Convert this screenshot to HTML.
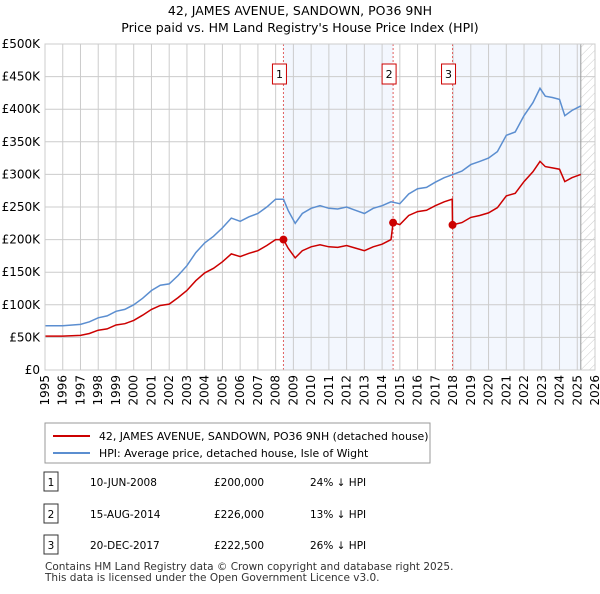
<!DOCTYPE html>
<html><head><meta charset="utf-8"><style>
body{margin:0;background:#fff;font-family:"DejaVu Sans",sans-serif;}
svg text{font-family:"DejaVu Sans",sans-serif;}
</style></head><body>
<svg width="600" height="590" viewBox="0 0 600 590">
<defs><pattern id="hatch" width="6" height="6" patternUnits="userSpaceOnUse" patternTransform="rotate(45)"><line x1="0" y1="0" x2="0" y2="6" stroke="#ccc" stroke-width="1"/></pattern></defs>
<text x="300" y="15" text-anchor="middle" font-size="12.5">42, JAMES AVENUE, SANDOWN, PO36 9NH</text>
<text x="300" y="32" text-anchor="middle" font-size="12.5">Price paid vs. HM Land Registry's House Price Index (HPI)</text>
<g id="plot"></g>
<g>
<rect x="45" y="423" width="385" height="40" fill="#fff" stroke="#999"/>
<line x1="53" y1="436" x2="90" y2="436" stroke="#cc0000" stroke-width="2"/>
<text x="99" y="440" font-size="10.9">42, JAMES AVENUE, SANDOWN, PO36 9NH (detached house)</text>
<line x1="53" y1="453" x2="90" y2="453" stroke="#5b8ed0" stroke-width="2"/>
<text x="99" y="457" font-size="10.9">HPI: Average price, detached house, Isle of Wight</text>
</g>
<g id="table" font-size="10.5"></g>
<text x="45" y="570" font-size="10.5" fill="#333">Contains HM Land Registry data © Crown copyright and database right 2025.</text>
<text x="45" y="581" font-size="10.5" fill="#333">This data is licensed under the Open Government Licence v3.0.</text>
</svg>
<script>
const hpiYears=[1995,1996,1997,1997.5,1998,1998.5,1999,1999.5,2000,2000.5,2001,2001.5,2002,2002.5,2003,2003.5,2004,2004.5,2005,2005.5,2006,2006.5,2007,2007.5,2008,2008.44,2008.7,2009.1,2009.5,2010,2010.5,2011,2011.5,2012,2012.5,2013,2013.5,2014,2014.5,2015,2015.5,2016,2016.5,2017,2017.5,2018,2018.5,2019,2019.5,2020,2020.5,2021,2021.5,2022,2022.5,2022.9,2023.2,2023.6,2024,2024.3,2024.7,2025.2];
const hpiValues=[68,68,70,74,80,83,90,93,100,110,122,130,132,145,160,180,195,205,218,233,228,235,240,250,262,262,245,225,240,248,252,248,247,250,245,240,248,252,258,255,270,278,280,288,295,300,305,315,320,325,335,360,365,390,410,432,420,418,415,390,398,405];
const priceYears=[1995,1996,1997,1997.5,1998,1998.5,1999,1999.5,2000,2000.5,2001,2001.5,2002,2002.5,2003,2003.5,2004,2004.5,2005,2005.5,2006,2006.5,2007,2007.5,2008,2008.44,2008.7,2009.1,2009.5,2010,2010.5,2011,2011.5,2012,2012.5,2013,2013.5,2014,2014.5,2014.62,2015,2015.5,2016,2016.5,2017,2017.5,2017.95,2017.97,2018.5,2019,2019.5,2020,2020.5,2021,2021.5,2022,2022.5,2022.9,2023.2,2023.6,2024,2024.3,2024.7,2025.2];
const priceValues=[52,52,53,56,61,63,69,71,76,84,93,99,101,111,122,137,149,156,166,178,174,179,183,191,200,200,187,172,183,189,192,189,188,191,187,183,189,193,200,226,223,237,243,245,252,258,262,222.5,226,234,237,241,249,267,271,289,304,320,312,310,308,289,295,300];
const saleYears=[2008.44,2014.62,2017.97];
const saleValues=[200,226,222.5];
const saleLabels=["1","2","3"];
const saleDates=["10-JUN-2008","15-AUG-2014","20-DEC-2017"];
const salePrices=["£200,000","£226,000","£222,500"];
const saleDiffs=["24% ↓ HPI","13% ↓ HPI","26% ↓ HPI"];
const yTicks=[0,50,100,150,200,250,300,350,400,450,500];
const yTickLabels=["£0","£50K","£100K","£150K","£200K","£250K","£300K","£350K","£400K","£450K","£500K"];
const xTicks=[1995,1996,1997,1998,1999,2000,2001,2002,2003,2004,2005,2006,2007,2008,2009,2010,2011,2012,2013,2014,2015,2016,2017,2018,2019,2020,2021,2022,2023,2024,2025,2026];
const dataEnd=2025.2;

const X0=45,X1=595,Y0=370,Y1=44;
const x=v=>X0+(v-1995)/(2026-1995)*(X1-X0);
const y=v=>Y0-v/500*(Y0-Y1);
const NS="http://www.w3.org/2000/svg";
const plot=document.getElementById('plot');
function mk(tag,attrs,parent){const e=document.createElementNS(NS,tag);for(const k in attrs)e.setAttribute(k,attrs[k]);(parent||plot).appendChild(e);return e;}
let s=mk('rect',{x:x(saleYears[0]),y:Y1,width:x(saleYears[1])-x(saleYears[0]),height:Y0-Y1,fill:'#eef3fd',opacity:0.7});


s=mk('rect',{x:x(saleYears[2]),y:Y1,width:x(dataEnd)-x(saleYears[2]),height:Y0-Y1,fill:'#eef3fd',opacity:0.7});


s=mk('rect',{x:x(dataEnd),y:Y1,width:X1-x(dataEnd),height:Y0-Y1,fill:'url(#hatch)'});


yTicks.forEach((t,i)=>{
 const l=mk('line',{x1:X0,x2:X1,y1:y(t),y2:y(t),stroke:'#ccc'});
 
 
 const tx=mk('text',{x:40,y:y(t)+4,'text-anchor':'end','font-size':12});
 tx.textContent=yTickLabels[i];
 
 
});
xTicks.forEach(t=>{
 const l=mk('line',{x1:x(t),x2:x(t),y1:Y1,y2:Y0,stroke:'#ccc'});
 
 
 const tx=mk('text',{x:0,y:0,'text-anchor':'end','font-size':12,transform:`translate(${x(t)+4},375) rotate(-90)`});
 tx.textContent=t;
 
 
});
const ed=mk('line',{x1:x(dataEnd),x2:x(dataEnd),y1:Y1,y2:Y0,stroke:'#999'});


saleYears.forEach((sy,i)=>{
 const l=mk('line',{x1:x(sy),x2:x(sy),y1:Y1,y2:Y0,stroke:'#e06060','stroke-dasharray':'2,2'});
 
 
});
function path(xs,vs){return xs.map((v,i)=>(i?'L':'M')+x(v).toFixed(1)+','+y(vs[i]).toFixed(1)).join('');}
let p=mk('path',{d:path(hpiYears,hpiValues),fill:'none',stroke:'#5b8ed0','stroke-width':1.5});


p=mk('path',{d:path(priceYears,priceValues),fill:'none',stroke:'#cc0000','stroke-width':1.5});


saleYears.forEach((sy,i)=>{
 const c=mk('circle',{cx:x(sy),cy:y(saleValues[i]),r:4,fill:'#cc0000'});
 
 
 const g=mk('g',{});
 
 
 mk('rect',{x:x(sy)-11,y:64,width:14,height:20,fill:'#fff',stroke:'#cc0000'},g);
 const t=mk('text',{x:x(sy)-4,y:78,'text-anchor':'middle','font-size':11},g);
 t.textContent=saleLabels[i];
});
const f=mk('rect',{x:X0,y:Y1,width:X1-X0,height:Y0-Y1,fill:'none',stroke:'#ccc'});


const tb=document.getElementById('table');
const rowsY=[482,514,545];
saleLabels.forEach((lb,i)=>{
 const g=mk('g',{},tb);
 
 
 mk('rect',{x:44,y:rowsY[i]-10,width:14,height:19,fill:'#fff',stroke:'#333'},g);
 let t=mk('text',{x:51,y:rowsY[i]+4,'text-anchor':'middle'},g);t.textContent=lb;
 t=mk('text',{x:90,y:rowsY[i]+4},g);t.textContent=saleDates[i];
 t=mk('text',{x:214,y:rowsY[i]+4},g);t.textContent=salePrices[i];
 t=mk('text',{x:310,y:rowsY[i]+4},g);t.textContent=saleDiffs[i];
});
</script>
</body></html>
